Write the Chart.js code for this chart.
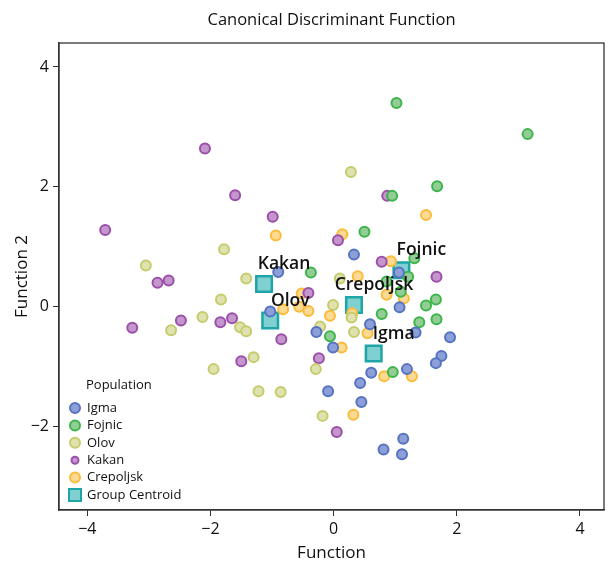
<!DOCTYPE html>
<html>
<head>
<meta charset="UTF-8">
<title>Canonical Discriminant Function</title>
<script src="https://cdn.jsdelivr.net/npm/chart.js"></script>
<style>
  body { margin: 0; background: #fff; }
  #wrap { width: 608px; height: 565px; }
</style>
</head>
<body>
<div id="wrap"><canvas id="grafico" width="608" height="565"></canvas></div>
<script>
// valores (Function 1, Function 2)
const igmaX = [-0.90, -1.03, 0.33, 1.06, 1.07, -0.28, -0.01, 0.59, 1.33, 1.89, 1.75, 1.66, 1.19, 0.61, 0.43, -0.09, 0.45, 1.13, 0.81, 1.11];
const igmaY = [0.58, -0.08, 0.87, 0.57, -0.01, -0.42, -0.68, -0.29, -0.43, -0.51, -0.82, -0.94, -1.04, -1.10, -1.27, -1.41, -1.59, -2.20, -2.38, -2.46];

const fojnicX = [1.02, 3.15, 1.68, 0.95, 0.50, -0.37, 1.31, 1.21, 0.86, 1.09, 1.66, 1.50, 0.78, 1.39, 1.67, 0.96, -0.06];
const fojnicY = [3.40, 2.88, 2.01, 1.85, 1.25, 0.57, 0.81, 0.50, 0.42, 0.25, 0.12, 0.02, -0.12, -0.26, -0.21, -1.09, -0.49];

const olovX = [0.28, -1.78, -3.05, -1.42, -1.83, -2.13, -2.64, -1.52, -1.42, -1.30, -1.95, -1.22, -0.86, -0.29, -0.22, -0.01, 0.10, 0.29, 0.33, -0.18];
const olovY = [2.25, 0.96, 0.69, 0.47, 0.12, -0.17, -0.39, -0.34, -0.41, -0.84, -1.04, -1.41, -1.42, -1.04, -0.33, 0.03, 0.47, -0.18, -0.42, -1.82];

const kakanX = [-2.09, -1.60, -3.71, -2.86, -2.68, -3.27, -2.48, -1.84, -1.65, -1.50, -0.85, -0.41, -0.24, 0.07, 0.78, 1.67, 0.87, 0.05, -0.99];
const kakanY = [2.64, 1.86, 1.28, 0.40, 0.44, -0.35, -0.23, -0.26, -0.19, -0.91, -0.54, 0.23, -0.86, 1.11, 0.75, 0.50, 1.85, -2.09, 1.50];

const crepoljskX = [1.50, 0.14, 0.93, 0.39, -0.94, -0.52, -0.82, -0.56, -0.41, -0.06, 0.86, 1.14, 0.55, 0.13, 0.82, 1.27, 0.32, 0.30];
const crepoljskY = [1.53, 1.21, 0.76, 0.51, 1.19, 0.22, -0.04, 0.00, -0.07, -0.15, 0.20, 0.14, -0.44, -0.68, -1.16, -1.16, -1.80, -0.11];

// centroides dos grupos
const centroidNames = ["Igma", "Fojnic", "Olov", "Kakan", "Crepoljsk"];
const centroidX = [0.65, 1.10, -1.03, -1.13, 0.33];
const centroidY = [-0.78, 0.61, -0.23, 0.38, 0.03];

const xTicks = [-4, -2, 0, 2, 4];
const yTicks = [-2, 0, 2, 4];

function pontos(xs, ys) {
    return xs.map((x, i) => ({ x: x, y: ys[i] }));
}

const fonte = "'Open Sans', 'Noto Sans', sans-serif";

const grupos = [
    { label: "Igma", xs: igmaX, ys: igmaY, cor: "#5573bf", fundo: "#8c9fd9", ordem: 1 },
    { label: "Fojnic", xs: fojnicX, ys: fojnicY, cor: "#3cb54b", fundo: "#93cd95", ordem: 2 },
    { label: "Olov", xs: olovX, ys: olovY, cor: "#c4cc6c", fundo: "#dfe2ae", ordem: 3 },
    { label: "Kakan", xs: kakanX, ys: kakanY, cor: "#9b4fa8", fundo: "#c596cd", ordem: 4 },
    { label: "Crepoljsk", xs: crepoljskX, ys: crepoljskY, cor: "#fbbb3b", fundo: "#fcda92", ordem: 5 }
];

const datasets = grupos.map(g => ({
    label: g.label,
    data: pontos(g.xs, g.ys),
    backgroundColor: g.fundo,
    borderColor: g.cor,
    borderWidth: 2,
    pointRadius: 5,
    order: g.ordem
}));

datasets.push({
    label: "Group Centroid",
    data: pontos(centroidX, centroidY),
    pointStyle: "rect",
    backgroundColor: "#80d0d1",
    borderColor: "#1ea5a7",
    borderWidth: 2.5,
    pointRadius: 11,
    order: 10
});

// moldura, titulo, rotulos dos centroides e legenda dentro do grafico
const extras = {
    id: "extras",
    afterDraw(chart) {
        const ctx = chart.ctx;
        const a = chart.chartArea;
        const sx = chart.scales.x, sy = chart.scales.y;
        ctx.save();
        ctx.strokeStyle = "#333";
        ctx.lineWidth = 1.3;
        ctx.strokeRect(a.left, a.top, a.right - a.left, a.bottom - a.top);

        ctx.fillStyle = "#111";
        ctx.textAlign = "center";
        ctx.textBaseline = "middle";
        ctx.font = "16.5px " + fonte;
        ctx.fillText("Canonical Discriminant Function", (a.left + a.right) / 2, 20);

        ctx.font = "600 17.5px " + fonte;
        centroidNames.forEach((n, i) => {
            const px = sx.getPixelForValue(centroidX[i]);
            const py = sy.getPixelForValue(centroidY[i]);
            ctx.fillText(n, px + 20, py - 20);
        });

        // legenda
        const lx = 75, ly = 385, passo = 17.4;
        ctx.textAlign = "left";
        ctx.font = "13px " + fonte;
        ctx.fillStyle = "#111";
        ctx.fillText("Population", lx + 11, ly);
        grupos.forEach((g, i) => {
            const y = ly + 23 + i * passo;
            ctx.beginPath();
            ctx.arc(lx, y, g.label === "Kakan" ? 3.5 : 5, 0, Math.PI * 2);
            ctx.fillStyle = g.fundo;
            ctx.fill();
            ctx.lineWidth = 2;
            ctx.strokeStyle = g.cor;
            ctx.stroke();
            ctx.fillStyle = "#111";
            ctx.fillText(g.label, lx + 12, y);
        });
        const yc = ly + 23 + 5 * passo;
        ctx.fillStyle = "#80d0d1";
        ctx.fillRect(lx - 6, yc - 6, 12, 12);
        ctx.lineWidth = 2;
        ctx.strokeStyle = "#1ea5a7";
        ctx.strokeRect(lx - 6, yc - 6, 12, 12);
        ctx.fillStyle = "#111";
        ctx.fillText("Group Centroid", lx + 12, yc);
        ctx.restore();
    }
};

const menos = v => String(v).replace("-", "\u2212");

new Chart(document.getElementById("grafico"), {
    type: "scatter",
    data: { datasets: datasets },
    options: {
        responsive: false,
        animation: false,
        layout: { autoPadding: false, padding: { left: 0, right: 4, top: 43, bottom: 0 } },
        plugins: {
            legend: { display: false },
            tooltip: { enabled: false }
        },
        scales: {
            x: {
                type: "linear",
                min: -4.46,
                max: 4.39,
                afterFit: s => { s.height = 55; s.paddingLeft = 0; s.paddingRight = 0; },
                afterBuildTicks: s => { s.ticks = xTicks.map(v => ({ value: v })); },
                ticks: { color: "#111", font: { family: fonte, size: 16 }, padding: 4, callback: menos },
                grid: { drawOnChartArea: false, drawTicks: true, tickLength: 6, color: "#333" },
                border: { color: "#333", width: 1.3 },
                title: { display: true, text: "Function", color: "#111", font: { family: fonte, size: 17 }, padding: { top: 0, bottom: 2 } }
            },
            y: {
                type: "linear",
                min: -3.39,
                max: 4.4,
                afterFit: s => { s.width = 59; s.paddingTop = 0; s.paddingBottom = 0; },
                afterBuildTicks: s => { s.ticks = yTicks.map(v => ({ value: v })); },
                ticks: { color: "#111", font: { family: fonte, size: 16 }, padding: 4, callback: menos },
                grid: { drawOnChartArea: false, drawTicks: true, tickLength: 6, color: "#333" },
                border: { color: "#333", width: 1.3 },
                title: { display: true, text: "Function 2", color: "#111", font: { family: fonte, size: 17 }, padding: { top: 12, bottom: 0 } }
            }
        }
    },
    plugins: [extras]
});
</script>
</body>
</html>
